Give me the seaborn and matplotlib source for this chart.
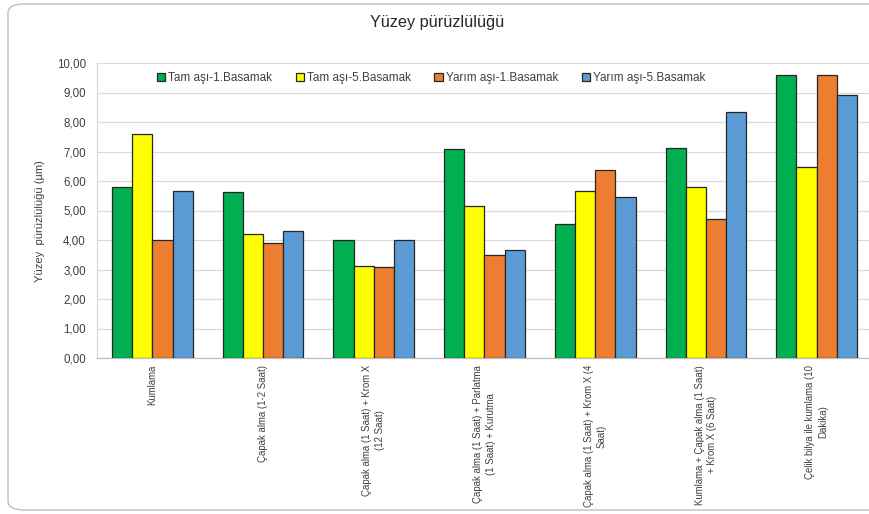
import matplotlib
matplotlib.use("Agg")
import matplotlib.pyplot as plt
from matplotlib.patches import FancyBboxPatch, Patch
from matplotlib.ticker import FixedLocator, FuncFormatter
import pandas as pd
import seaborn as sns

# Processes and measured roughness values (µm)
categories = [
    "Kumlama",
    "Çapak alma (1-2 Saat)",
    "Çapak alma (1 Saat) + Krom X\n(12 Saat)",
    "Çapak alma (1 Saat) + Parlatma\n(1 Saat) + Kurutma",
    "Çapak alma (1 Saat) + Krom X (4\nSaat)",
    "Kumlama + Çapak alma (1 Saat)\n+ Krom X (6 Saat)",
    "Çelik bilya ile kumlama (10\nDakika)",
]
series_names = ["Tam aşı-1.Basamak", "Tam aşı-5.Basamak",
                "Yarım aşı-1.Basamak", "Yarım aşı-5.Basamak"]
tam_1 = [5.80, 5.62, 3.99, 7.07, 4.55, 7.12, 9.60]
tam_5 = [7.60, 4.21, 3.13, 5.16, 5.65, 5.79, 6.47]
yarim_1 = [4.00, 3.90, 3.07, 3.49, 6.38, 4.70, 9.60]
yarim_5 = [5.65, 4.31, 3.99, 3.65, 5.45, 8.34, 8.93]
colors = ["#00B050", "#FFFF00", "#ED7D31", "#5B9BD5"]

title = "Yüzey pürüzlülüğü"
y_label = "Yüzey  pürüzlülüğü (µm)"

sns.set_theme(style="white")
plt.rcParams["font.family"] = ["Liberation Sans", "DejaVu Sans"]

df = pd.DataFrame({
    "Kategori": categories * 4,
    "Seri": [s for s in series_names for _ in categories],
    "Değer": tam_1 + tam_5 + yarim_1 + yarim_5,
})

W, H = 870, 514
fig = plt.figure(figsize=(W / 100, H / 100), dpi=100)
fig.patch.set_facecolor("white")

# rounded chart frame, kept behind the axes (runs past the right edge)
frame = FancyBboxPatch((8 / W, 4 / H), 900 / W, 506 / H,
                       boxstyle="round,pad=0,rounding_size=0.018",
                       transform=fig.transFigure, facecolor="none",
                       edgecolor="#BFBFBF", linewidth=1.0, zorder=-10)
fig.patches.append(frame)

ax = fig.add_axes([97 / W, 156 / H, 775 / W, 295 / H])
ax.set_facecolor("none")

sns.barplot(data=df, x="Kategori", y="Değer", hue="Seri",
            hue_order=series_names, order=categories, palette=colors,
            saturation=1, width=0.73, edgecolor="#262626", linewidth=0.9,
            errorbar=None, legend=False, ax=ax, zorder=3)

ax.set_xlim(-0.5, len(categories) - 0.5)
ax.set_ylim(0, 10)
ax.set_yticks([i for i in range(11)])
ax.yaxis.set_major_formatter(FuncFormatter(lambda v, _: f"{v:.2f}".replace(".", ",")))
ax.grid(axis="y", color="#D9D9D9", linewidth=0.9, zorder=0)
ax.set_axisbelow(True)

for side in ["top", "right"]:
    ax.spines[side].set_visible(False)
for side in ["bottom", "left"]:
    ax.spines[side].set_color("#BFBFBF")
    ax.spines[side].set_linewidth(0.9)
ax.spines["left"].set_color("#D9D9D9")

ax.tick_params(axis="y", length=0, labelsize=8.3, labelcolor="#404040", pad=8)
ax.tick_params(axis="x", which="major", length=0, pad=5)
ax.set_xticks(range(len(categories)))
ax.set_xticklabels(categories, rotation=90, ha="center", va="top",
                   fontsize=6.9, color="#404040", multialignment="center",
                   linespacing=1.35)
ax.xaxis.set_minor_locator(FixedLocator([i - 0.5 for i in range(len(categories) + 1)]))
ax.tick_params(axis="x", which="minor", length=5, color="#BFBFBF", width=0.9)

ax.set_xlabel("")
ax.set_ylabel("")
fig.text(40 / W, 1 - 221 / H, y_label, rotation=90, ha="center", va="center",
         fontsize=8, color="#404040")

fig.text(437 / W, 1 - 22 / H, title, ha="center", va="center",
         fontsize=11.7, color="#262626")

handles = [Patch(facecolor=c, edgecolor="#262626", linewidth=0.9) for c in colors]
fig.legend(handles, series_names, loc="center", ncol=4,
           bbox_to_anchor=(431 / W, 1 - 78 / H), frameon=False,
           fontsize=8.5, handlelength=0.7, handleheight=0.7,
           handletextpad=0.25, columnspacing=2.0, labelcolor="#404040")

fig.savefig("out.png", dpi=100, facecolor="white")
